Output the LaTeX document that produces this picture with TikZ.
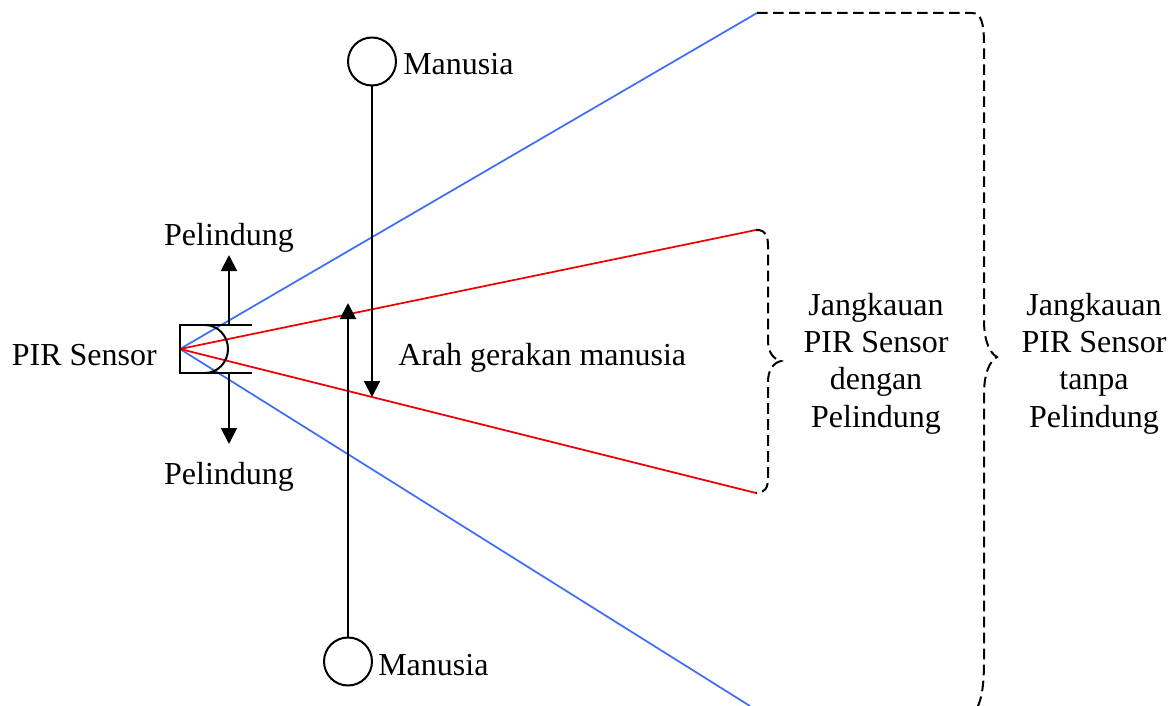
\documentclass[tikz,border=0pt]{standalone}
\usepackage{fontspec}
\setmainfont{Liberation Serif}
\usetikzlibrary{arrows.meta}
\definecolor{fanblue}{RGB}{62,110,245}
\definecolor{fanred}{RGB}{240,0,0}
\tikzset{
  blk/.style={line width=1.5pt, draw=black},
  arr/.style={blk, -{Triangle[width=12pt,length=12pt]}},
  fanb/.style={draw=fanblue, line width=1.3pt},
  fanr/.style={draw=fanred, line width=1.3pt},
  brace/.style={draw=black, line width=1.5pt, dash pattern=on 8pt off 4pt},
  lbl/.style={font=\fontsize{24}{28}\selectfont, inner sep=0pt},
  person/.style={circle, draw, line width=1.5pt, minimum size=36pt, inner sep=0pt},
}
\begin{document}
\begin{tikzpicture}[x=0.75pt, y=-0.75pt]
\useasboundingbox (0,0) rectangle (1171,706);
\clip (0,0) rectangle (1171,706);
% coordinates
\coordinate (apex) at (180,349);
\coordinate (bt) at (757,13);
\coordinate (bb) at (750,706);
\coordinate (rt) at (756,230);
\coordinate (rb) at (756,493);
% fan lines
\draw[fanb] (apex) -- (bt);
\draw[fanb] (apex) -- (bb);
\draw[fanr] (apex) -- (rt);
\draw[fanr] (apex) -- (rb);
% sensor and shield
\coordinate (st) at (252,325);
\coordinate (sb) at (252,373);
\draw[blk] (st) -- (180,325) -- (180,373) -- (sb);
\draw[blk] (205,325) arc[start angle=90, end angle=-90, x radius=17.25pt, y radius=18pt];
\coordinate (pu0) at (229,325);
\coordinate (pu1) at (229,255);
\coordinate (pd0) at (229,373);
\coordinate (pd1) at (229,444);
\draw[arr] (pu0) -- (pu1);
\draw[arr] (pd0) -- (pd1);
% persons
\node[person] (m1) at (372,61.5) {};
\node[person] (m2) at (348,661.5) {};
\coordinate (m1t) at (372,397);
\coordinate (m2t) at (348,303);
\draw[arr] (m1.south) -- (m1t);
\draw[arr] (m2.north) -- (m2t);
% braces
\draw[brace] (rt) -- (759,230) .. controls (765,231) and (768,235) .. (768,246)
  -- (768,340) .. controls (768,352) and (773,359) .. (781,361)
  .. controls (773,363) and (768,370) .. (768,382)
  -- (768,478) .. controls (768,488) and (765,493) .. (rb);
\draw[brace] (bt) -- (972,13) .. controls (981,13) and (984,22) .. (984,45)
  -- (984,320) .. controls (984,342) and (990,353) .. (997,357)
  .. controls (990,361) and (984,372) .. (984,395)
  -- (984,660) .. controls (984,695) and (980,712) .. (965,720);
% labels
\node[lbl, anchor=base east] (lpir) at (157,365) {PIR Sensor};
\node[lbl, anchor=base] (lp1) at (229,245) {Pelindung};
\node[lbl, anchor=base] (lp2) at (229,484) {Pelindung};
\node[lbl, anchor=base west] (lm1) at (403,75) {Manusia};
\node[lbl, anchor=base west] (lm2) at (378,675) {Manusia};
\node[lbl, anchor=base west] (larah) at (398,365) {Arah gerakan manusia};
\node[lbl, anchor=base, align=center] (lj1) at (876,427) {Jangkauan\\PIR Sensor\\dengan\\Pelindung};
\node[lbl, anchor=base, align=center] (lj2) at (1094,427) {Jangkauan\\PIR Sensor\\tanpa\\Pelindung};
\end{tikzpicture}
\end{document}
